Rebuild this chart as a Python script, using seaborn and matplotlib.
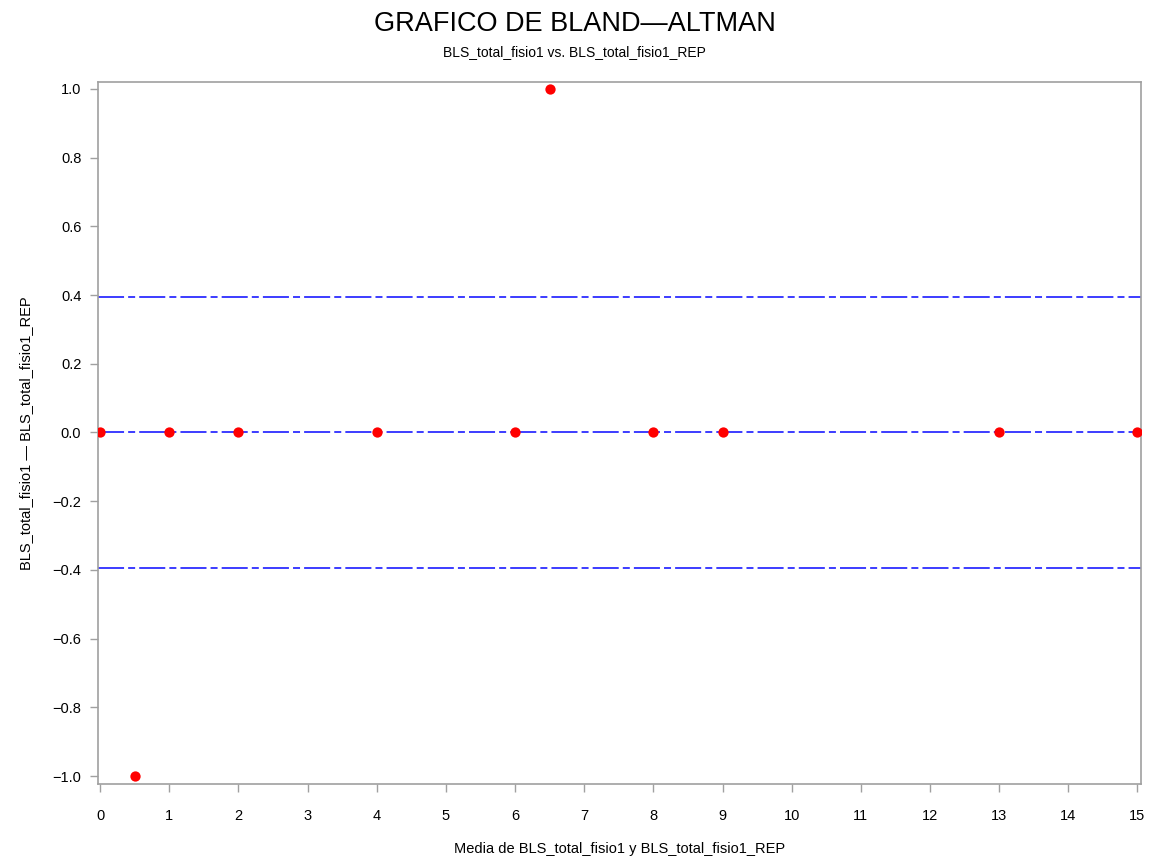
import matplotlib
matplotlib.use("Agg")
import matplotlib.pyplot as plt
import seaborn as sns
import pandas as pd

# Bland-Altman data: mean of the two measurements vs. their difference
mean_vals = [0, 0.5, 1, 2, 4, 6, 6.5, 8, 9, 13, 15]
diff_vals = [0, -1, 0, 0, 0, 0, 1, 0, 0, 0, 0]
mean_diff = 0.0
upper_loa = 0.395
lower_loa = -0.395

x_ticks = list(range(0, 16))
y_ticks = [-1.0, -0.8, -0.6, -0.4, -0.2, 0.0, 0.2, 0.4, 0.6, 0.8, 1.0]

df = pd.DataFrame({"media": mean_vals, "dif": diff_vals})

sns.set_style("white")
plt.rcParams["font.family"] = ["Liberation Sans", "DejaVu Sans"]
plt.rcParams["text.color"] = "black"
plt.rcParams["axes.labelcolor"] = "black"
plt.rcParams["xtick.color"] = "black"
plt.rcParams["ytick.color"] = "black"

fig = plt.figure(figsize=(11.49, 8.6), dpi=100)
ax = fig.add_axes([0.0853, 0.0884, 0.9077, 0.8163])

line_style = dict(color="#3c3cff", lw=1.4, ls=(0, (13.4, 2.1, 3.6, 2.1)), zorder=1)
for level in (upper_loa, mean_diff, lower_loa):
    ax.axhline(level, **line_style)

sns.scatterplot(data=df, x="media", y="dif", ax=ax, color="#ff0000",
                s=55, edgecolor="#ff0000", linewidth=0, zorder=3)

ax.set_xlim(-0.03, 15.05)
ax.set_ylim(-1.023, 1.02)
ax.set_xticks(x_ticks)
ax.set_xticklabels([str(t) for t in x_ticks])
ax.set_yticks(y_ticks)
ax.set_yticklabels([f"{t:.1f}".replace("-", "\u2212") for t in y_ticks])

for sp in ax.spines.values():
    sp.set_color("#a0a0a0")
    sp.set_linewidth(1.2)
ax.tick_params(axis="both", which="major", direction="out", length=6,
               width=1, color="#a0a0a0", labelcolor="black", labelsize=10.5,
               pad=6, bottom=True, left=True)
ax.tick_params(axis="x", pad=12)

ax.set_xlabel("Media de BLS_total_fisio1 y BLS_total_fisio1_REP",
              fontsize=10.5, labelpad=14)
ax.set_ylabel("BLS_total_fisio1 \u2014 BLS_total_fisio1_REP",
              fontsize=10.5, labelpad=14)

fig.text(0.5, 0.972, "GRAFICO DE BLAND\u2014ALTMAN", ha="center", va="center",
         fontsize=19.5)
fig.text(0.5, 0.94, "BLS_total_fisio1 vs. BLS_total_fisio1_REP",
         ha="center", va="center", fontsize=10)

fig.savefig("out.png", dpi=100)
